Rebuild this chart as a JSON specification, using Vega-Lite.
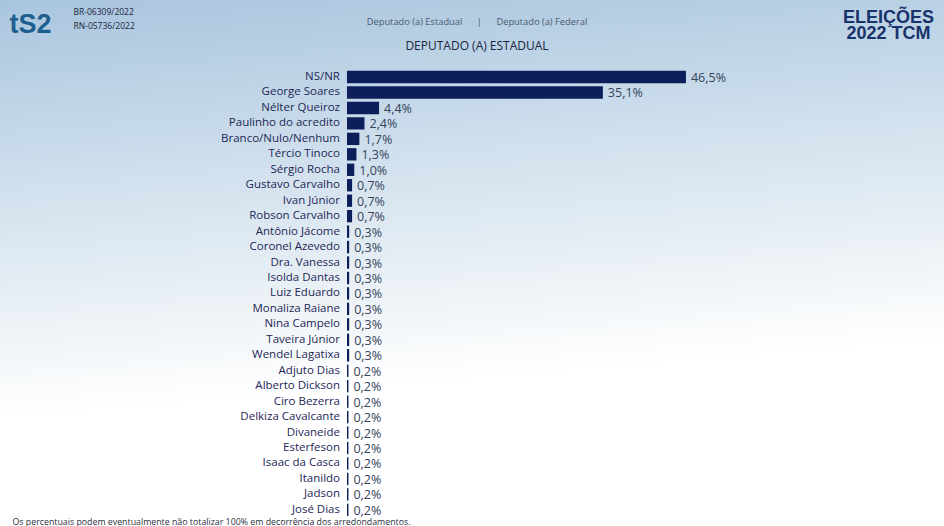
{
  "$schema": "https://vega.github.io/schema/vega-lite/v6.json",
  "width": 944,
  "height": 526,
  "autosize": "none",
  "padding": 0,
  "background": "#ffffff",
  "title": {
    "text": "Deputado (a) Estadual\u00a0\u00a0\u00a0\u00a0\u00a0\u00a0|\u00a0\u00a0\u00a0\u00a0\u00a0\u00a0Deputado (a) Federal",
    "subtitle": "DEPUTADO (A) ESTADUAL",
    "anchor": "middle",
    "dx": 5,
    "offset": -52,
    "font": "Open Sans",
    "fontSize": 9.3,
    "fontWeight": "normal",
    "color": "#4a5a70",
    "subtitleFont": "Open Sans",
    "subtitleFontSize": 12,
    "subtitleColor": "#1a2540",
    "subtitlePadding": 14
  },
  "data": {
    "values": [
      {"nome": "NS/NR", "pct": 46.5},
      {"nome": "George Soares", "pct": 35.1},
      {"nome": "Nélter Queiroz", "pct": 4.4},
      {"nome": "Paulinho do acredito", "pct": 2.4},
      {"nome": "Branco/Nulo/Nenhum", "pct": 1.7},
      {"nome": "Tércio Tinoco", "pct": 1.3},
      {"nome": "Sérgio Rocha", "pct": 1.0},
      {"nome": "Gustavo Carvalho", "pct": 0.7},
      {"nome": "Ivan Júnior", "pct": 0.7},
      {"nome": "Robson Carvalho", "pct": 0.7},
      {"nome": "Antônio Jácome", "pct": 0.3},
      {"nome": "Coronel Azevedo", "pct": 0.3},
      {"nome": "Dra. Vanessa", "pct": 0.3},
      {"nome": "Isolda Dantas", "pct": 0.3},
      {"nome": "Luiz Eduardo", "pct": 0.3},
      {"nome": "Monaliza Raiane", "pct": 0.3},
      {"nome": "Nina Campelo", "pct": 0.3},
      {"nome": "Taveira Júnior", "pct": 0.3},
      {"nome": "Wendel Lagatixa", "pct": 0.3},
      {"nome": "Adjuto Dias", "pct": 0.2},
      {"nome": "Alberto Dickson", "pct": 0.2},
      {"nome": "Ciro Bezerra", "pct": 0.2},
      {"nome": "Delkiza Cavalcante", "pct": 0.2},
      {"nome": "Divaneide", "pct": 0.2},
      {"nome": "Esterfeson", "pct": 0.2},
      {"nome": "Isaac da Casca", "pct": 0.2},
      {"nome": "Itanildo", "pct": 0.2},
      {"nome": "Jadson", "pct": 0.2},
      {"nome": "José Dias", "pct": 0.2}
    ]
  },
  "transform": [
    {"calculate": "replace(format(datum.pct, '.1f'), '.', ',') + '%'", "as": "rotulo"}
  ],
  "encoding": {
    "y": {
      "field": "nome",
      "type": "nominal",
      "sort": null,
      "axis": null,
      "scale": {"range": [69.3, 517.6], "paddingInner": 0.2, "paddingOuter": 0.1}
    }
  },
  "layer": [
    {
      "mark": {"type": "bar", "color": "#0c1f5a"},
      "encoding": {
        "x": {
          "field": "pct",
          "type": "quantitative",
          "scale": {"domain": [-47.6, 81.9], "nice": false, "zero": false},
          "axis": {
            "orient": "bottom",
            "labels": false,
            "ticks": false,
            "domain": false,
            "grid": false,
            "title": "Os percentuais podem eventualmente não totalizar 100% em decorrência dos arredondamentos.",
            "titleX": 12,
            "titleY": -2,
            "titleAlign": "left",
            "titleBaseline": "alphabetic",
            "titleFont": "Open Sans",
            "titleFontSize": 8.8,
            "titleFontWeight": "normal",
            "titleColor": "#2a3040"
          }
        },
        "y": {
          "field": "nome",
          "type": "nominal",
          "sort": null,
          "axis": {
            "orient": "left",
            "labels": false,
            "ticks": false,
            "domain": false,
            "grid": false,
            "title": ["ELEIÇÕES", "2022 TCM"],
            "titleAngle": 0,
            "titleX": 888,
            "titleY": 22,
            "titleAlign": "center",
            "titleBaseline": "alphabetic",
            "titleFont": "Liberation Sans",
            "titleFontSize": 18,
            "titleFontWeight": "bold",
            "titleLineHeight": 16,
            "titleColor": "#17336a"
          }
        }
      }
    },
    {
      "mark": {
        "type": "text",
        "align": "right",
        "baseline": "middle",
        "dx": -7,
        "font": "Open Sans",
        "fontSize": 11.5,
        "color": "#1e2757"
      },
      "encoding": {
        "x": {
          "datum": 0,
          "type": "quantitative",
          "axis": {
            "orient": "top",
            "labels": false,
            "ticks": false,
            "domain": false,
            "grid": false,
            "title": ["BR-06309/2022", "RN-05736/2022"],
            "titleX": 73,
            "titleY": 14,
            "titleAlign": "left",
            "titleBaseline": "alphabetic",
            "titleFont": "Open Sans",
            "titleFontSize": 8.5,
            "titleFontWeight": "normal",
            "titleLineHeight": 14,
            "titleColor": "#1a2540"
          }
        },
        "y": {
          "field": "nome",
          "type": "nominal",
          "sort": null,
          "axis": {
            "orient": "right",
            "labels": false,
            "ticks": false,
            "domain": false,
            "grid": false,
            "title": "tS2",
            "titleAngle": 0,
            "titleX": -914,
            "titleY": 32,
            "titleAlign": "center",
            "titleBaseline": "alphabetic",
            "titleFont": "Liberation Sans",
            "titleFontSize": 27,
            "titleFontWeight": "bold",
            "titleColor": "#1d5f8e"
          }
        },
        "text": {"field": "nome"}
      }
    },
    {
      "mark": {
        "type": "text",
        "align": "left",
        "baseline": "middle",
        "dx": 5,
        "dy": 1,
        "font": "Open Sans",
        "fontSize": 12.5,
        "color": "#34435a"
      },
      "encoding": {
        "x": {"field": "pct", "type": "quantitative", "axis": null},
        "text": {"field": "rotulo"}
      }
    }
  ],
  "resolve": {"axis": {"x": "independent", "y": "independent"}},
  "config": {
    "view": {
      "stroke": null,
      "fill": {
        "gradient": "linear",
        "x1": 0,
        "y1": 0,
        "x2": 0.15,
        "y2": 1,
        "stops": [
          {"offset": 0, "color": "#a9c5de"},
          {"offset": 0.35, "color": "#d0e0ed"},
          {"offset": 0.62, "color": "#eef3f7"},
          {"offset": 0.78, "color": "#ffffff"},
          {"offset": 1, "color": "#ffffff"}
        ]
      }
    }
  }
}
